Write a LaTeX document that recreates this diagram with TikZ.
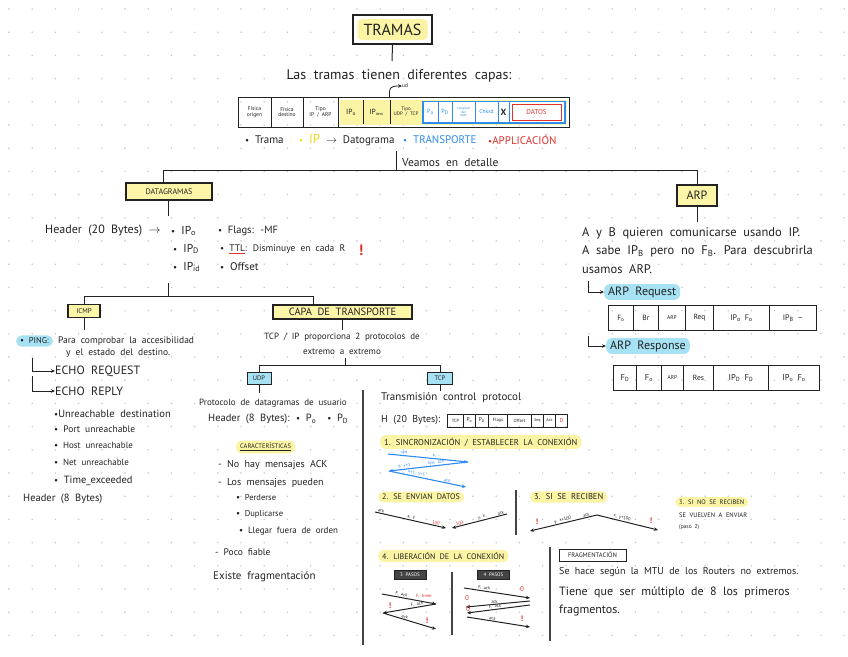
\documentclass[tikz,border=0pt]{standalone}
\usepackage{fontspec}
\setmainfont{PT Sans}[WordSpace=2]
\usetikzlibrary{arrows.meta,calc}
\definecolor{hlY}{HTML}{FBF4A4}
\definecolor{boxY}{HTML}{FDF5A8}
\definecolor{hlB}{HTML}{A6E1F4}
\definecolor{tBlue}{HTML}{2E8CF0}
\definecolor{tRed}{HTML}{E2312B}
\definecolor{tYel}{HTML}{E9D81C}
\definecolor{dotc}{HTML}{C4C4C4}
\definecolor{ink}{HTML}{222222}
\definecolor{dk}{HTML}{444444}
\newcommand\myfs[1]{\fontsize{#1}{#1}\selectfont}
\newcommand\sbs[1]{\textsubscript{#1}}
\newcommand\bul{{\small•}}
\begin{document}
\begin{tikzpicture}[x=1pt,y=-1pt,
  txt/.style={inner sep=0pt, anchor=west, text=ink},
  ctr/.style={inner sep=0pt, text=ink, align=center},
  ybox/.style={draw=ink, line width=1.1pt, fill=boxY, inner sep=0pt, text=ink},
  bbox/.style={draw=ink, line width=1pt, fill=hlB, inner sep=0pt, text=ink},
  hly/.style={fill=hlY, rounded corners=5pt, inner xsep=4pt, inner ysep=2.5pt, anchor=west, text=ink},
  hlb/.style={fill=hlB, rounded corners=6pt, inner xsep=4pt, inner ysep=2.5pt, anchor=west, text=ink},
  ln/.style={draw=ink, line width=1pt},
  arr/.style={draw=ink, line width=1pt, -{Stealth[length=4pt,width=3.5pt]}},
  barr/.style={draw=tBlue, line width=1.1pt, -{Stealth[length=4pt,width=3.5pt]}},
  lab/.style={inner sep=0.6pt, text=ink, font=\myfs{4.5}},
  cell/.style={draw=ink, line width=.9pt, anchor=north west, inner sep=0pt, text=ink, align=center},
  redm/.style={inner sep=0pt, text=tRed, font=\myfs{8}\bfseries},
]
\useasboundingbox (0,0) rectangle (848,656);
\fill[white] (0,0) rectangle (848,656);
\foreach \i in {0,...,36}{\foreach \j in {0,...,28}{\fill[dotc] (9+23.2*\i,9+23.2*\j) circle (0.8pt);}}

% ---------------- title
\node[draw=ink, line width=1.3pt, fill=white, minimum width=79pt, minimum height=29pt] (tramas) at (392.5,29.5) {};
\node[fill=hlY, rounded corners=4pt, minimum width=70pt, minimum height=21pt, inner sep=0pt, font=\myfs{16}, text=ink] (tramasT) at (tramas.center) {TRAMAS};
\coordinate (t1) at (392,61);
\draw[ln] (tramas.south) -- (t1);
\node[ctr, font=\myfs{14}] (capas) at (399,76) {Las tramas tienen diferentes capas:};

% ---------------- frame bar
\draw[ln] (238,97) rectangle (569,127);
\draw[ln] (271,97) -- (271,127);
\draw[ln] (303,97) -- (303,127);
\draw[ln] (338,97) -- (338,127);
\fill[hlY] (339.5,99.5) rectangle (567,124.5);
\draw[ln] (363,100) -- (363,124);
\draw[ln] (390,100) -- (390,124);
\node[ctr, font=\myfs{5.5}] (fo) at (254.5,112) {Física\\origen};
\node[ctr, font=\myfs{5.5}] (fd) at (287,112) {Física\\destino};
\node[ctr, font=\myfs{5.5}] (tip) at (320.5,112) {Tipo\\IP / ARP};
\node[ctr, font=\myfs{7.5}] (ipo) at (351,112) {IP\sbs{o}};
\node[ctr, font=\myfs{7.5}] (ipd) at (376.5,112) {IP\sbs{\myfs{4}dest}};
\node[ctr, font=\myfs{5}] (tudp) at (406,112) {Tipo\\UDP / TCP};
\draw[tBlue, line width=1.2pt, fill=white] (423,101.5) rectangle (565,123);
\draw[tBlue, line width=1pt] (438,101.5) -- (438,123);
\draw[tBlue, line width=1pt] (452,101.5) -- (452,123);
\draw[tBlue, line width=1pt] (475,101.5) -- (475,123);
\draw[tBlue, line width=1pt] (498,101.5) -- (498,123);
\draw[tBlue, line width=1pt] (509,101.5) -- (509,123);
\node[ctr, text=tBlue, font=\myfs{6}] (bpo) at (430.5,112) {P\sbs{o}};
\node[ctr, text=tBlue, font=\myfs{6}] (bpd) at (445,112) {P\sbs{D}};
\node[ctr, text=tBlue, font=\myfs{3.3}] (blon) at (463.5,112) {Longitud\\del\\dato};
\node[ctr, text=tBlue, font=\myfs{5.5}] (bchk) at (486.5,112) {Chksd};
\node[ctr, font=\myfs{9}\bfseries] (bx) at (503.5,112) {X};
\node[draw=tRed, line width=1pt, fill=white, minimum width=49pt, minimum height=16pt, inner sep=0pt, text=tRed, font=\myfs{7}] (datos) at (536.5,112) {DATOS};
\coordinate (hk0) at (389.5,98);
\node[txt, font=\myfs{5.5}] (ud) at (402,86) {ud};
\draw[arr, line width=.8pt] (hk0) -- (389.5,91) to[out=90,in=180] (ud.west);

% legend
\node[txt, font=\myfs{11}] (lg1) at (245,140) {\bul\ Trama};
\node[txt, font=\myfs{11}] (lg2) at (299,140) {\textcolor{tYel}{\bul\ \myfs{13}IP} $\rightarrow$ Datograma};
\node[txt, font=\myfs{11}, text=tBlue] (lg3) at (403,140) {\bul\ TRANSPORTE};
\node[txt, font=\myfs{11}, text=tRed] (lg4) at (488,140) {\bul APPLICACIÓN};
\node[txt, font=\myfs{11.5}] (veamos) at (402,163) {Veamos en detalle};

% tree level 1
\coordinate (v0) at (396,151);
\coordinate (v1) at (396,170);
\coordinate (hl) at (163,170);
\coordinate (hr) at (697,170);
\draw[ln] (v0) -- (v1);
\draw[ln] (hl) -- (hr);
\node[ybox, minimum width=86pt, minimum height=17pt, font=\myfs{8}] (datag) at (169,191.5) {DATAGRAMAS};
\node[ybox, minimum width=40pt, minimum height=21pt, font=\myfs{12}] (arp) at (697,195.5) {ARP};
\draw[ln] (hl) -- (hl |- datag.north);
\draw[ln] (hr) -- (arp.north);

% ---------------- datagramas
\coordinate (d1) at (168,216);
\draw[ln] (datag.south -| d1) -- (d1);
\node[txt, font=\myfs{12}] (hdr20) at (45,231) {Header (20 Bytes) $\rightarrow$};
\node[txt, font=\myfs{11.5}] (dip1) at (171,231) {\bul\ IP\sbs{o}};
\node[txt, font=\myfs{11.5}] (dip2) at (173,249) {\bul\ IP\sbs{D}};
\node[txt, font=\myfs{11.5}] (dip3) at (173,267) {\bul\ IP\sbs{id}};
\node[txt, font=\myfs{10.5}] (dfl) at (218,231) {\bul\ Flags: -MF};
\node[txt, font=\myfs{9.5}] (dttl) at (220,249) {\bul\ \textcolor{tRed}{\underline{\textcolor{ink}{TTL}}}: Disminuye en cada R};
\node[redm, font=\myfs{15}\bfseries] (dexc) at (361,250) {!};
\node[txt, font=\myfs{11}] (doff) at (220,267) {\bul\ Offset};

\coordinate (d2) at (168,283);
\coordinate (d3) at (168,296);
\coordinate (d4) at (84,296);
\coordinate (d5) at (313,296);
\draw[ln] (d2) -- (d3);
\draw[ln] (d4) -- (d5);
\node[ybox, minimum width=32pt, minimum height=13pt, font=\myfs{7}] (icmp) at (84,311) {ICMP};
\node[ybox, minimum width=139pt, minimum height=14pt, font=\myfs{10.5}] (capa) at (342.5,312) {CAPA DE TRANSPORTE};
\draw[ln] (d4) -- (icmp.north);
\draw[ln] (d5) -- (d5 |- capa.north);

% ---------------- ICMP
\coordinate (i1) at (84,330);
\draw[ln] (icmp.south) -- (i1);
\node[hlb, font=\myfs{8.5}] (ping) at (16,341) {\bul\ PING:};
\node[txt, font=\myfs{9.5}] (pingt1) at (58,341) {Para comprobar la accesibilidad};
\node[txt, font=\myfs{9.5}] (pingt2) at (66,353) {y el estado del destino.};
\node[txt, font=\myfs{12}] (ereq) at (55,371) {ECHO REQUEST};
\node[txt, font=\myfs{12}] (erep) at (55,391) {ECHO REPLY};
\coordinate (e1) at (32,358);
\coordinate (e2) at (32,376);
\draw[arr] (e1) |- (ereq.west);
\draw[arr] (e2) |- (erep.west);
\node[txt, font=\myfs{10.5}] (u1) at (54,414) {\bul Unreachable destination};
\node[txt, font=\myfs{9.5}] (u2) at (54,429) {\bul\ Port unreachable};
\node[txt, font=\myfs{9}] (u3) at (54,445) {\bul\ Host unreachable};
\node[txt, font=\myfs{9}] (u4) at (54,462) {\bul\ Net unreachable};
\node[txt, font=\myfs{10.5}] (u5) at (54,481) {\bul\ Time\_exceeded};
\node[txt, font=\myfs{10.5}] (hdr8) at (23,499) {Header (8 Bytes)};

% ---------------- capa de transporte
\coordinate (c1) at (342,330);
\draw[ln] (capa.south -| c1) -- (c1);
\node[ctr, font=\myfs{9}] (tcpip1) at (342,337) {TCP / IP proporciona 2 protocolos de};
\node[ctr, font=\myfs{9}] (tcpip2) at (342,352) {extremo a extremo};
\coordinate (c2) at (345,358);
\coordinate (c3) at (345,365);
\coordinate (c4) at (259,365);
\coordinate (c5) at (440,365);
\draw[ln] (c2) -- (c3);
\draw[ln] (c4) -- (c5);
\node[bbox, minimum width=24pt, minimum height=12pt, font=\myfs{6.5}] (udp) at (259,378.5) {UDP};
\node[bbox, minimum width=25pt, minimum height=12pt, font=\myfs{6.5}] (tcp) at (440,378.5) {TCP};
\draw[ln] (c4) -- (udp.north);
\draw[ln] (c5) -- (tcp.north);
\coordinate (u0) at (259,393);
\draw[ln] (udp.south) -- (u0);
\coordinate (t0) at (440,391);
\draw[ln] (tcp.south) -- (t0);
\coordinate (sepA) at (363,390);
\coordinate (sepB) at (363,645);
\draw[ln, draw=dk, line width=1.3pt] (sepA) -- (sepB);

% UDP
\node[ctr, font=\myfs{9}] (udp1) at (273,403) {Protocolo de datagramas de usuario};
\node[txt, font=\myfs{10.5}] (udp2) at (208,419) {Header (8 Bytes): \bul\ P\sbs{o} \ \bul\ P\sbs{D}};
\node[hly, font=\myfs{6.5}] (carac) at (236,447) {\underline{CARACTERÍSTICAS}};
\node[txt, font=\myfs{10}] (udp3) at (218,465) {- No hay mensajes ACK};
\node[txt, font=\myfs{10}] (udp4) at (218,483) {- Los mensajes pueden};
\node[txt, font=\myfs{8.5}] (udp5) at (236,498) {\bul\ Perderse};
\node[txt, font=\myfs{8.5}] (udp6) at (236,514) {\bul\ Duplicarse};
\node[txt, font=\myfs{9}] (udp7) at (239,531) {\bul\ Llegar fuera de orden};
\node[txt, font=\myfs{9.5}] (udp8) at (215,552) {- Poco fiable};
\node[txt, font=\myfs{11}] (udp9) at (213,577) {Existe fragmentación};

% TCP
\node[txt, font=\myfs{11}] (tcp1) at (381,398) {Transmisión control protocol};
\node[txt, font=\myfs{10}] (tcp2) at (381,420) {H (20 Bytes):};
\node[cell, minimum width=16pt, minimum height=13pt, font=\myfs{4.5}] (tc1) at (447,413.5) {TCP};
\node[cell, minimum width=12pt, minimum height=13pt, font=\myfs{5.5}] (tc2) at (463,413.5) {P\sbs{o}};
\node[cell, minimum width=13pt, minimum height=13pt, font=\myfs{5.5}] (tc3) at (475,413.5) {P\sbs{D}};
\node[cell, minimum width=19pt, minimum height=13pt, font=\myfs{4.5}] (tc4) at (488,413.5) {Flags};
\node[cell, minimum width=24pt, minimum height=13pt, font=\myfs{4.5}] (tc5) at (507,413.5) {Offset};
\node[cell, minimum width=12pt, minimum height=13pt, font=\myfs{4}] (tc6) at (531,413.5) {Seq};
\node[cell, minimum width=12pt, minimum height=13pt, font=\myfs{4}] (tc7) at (543,413.5) {Ack};
\node[cell, minimum width=12pt, minimum height=13pt, font=\myfs{5.5}, text=tRed] (tc8) at (555,413.5) {D};

\node[hly, font=\myfs{8.5}] (sync) at (380,442) {1. SINCRONIZACIÓN / ESTABLECER LA CONEXIÓN};
\coordinate (s1) at (388,454);
\coordinate (s2) at (468,462);
\coordinate (s3) at (389,471);
\coordinate (s4) at (466,487);
\draw[barr] (s1) -- node[lab, text=tBlue, pos=.2, above, sloped] {syn} node[lab, text=tBlue, pos=.6, above, sloped] {x, -} (s2);
\draw[barr] (s2) -- node[lab, text=tBlue, pos=.8, above, sloped] {y, x+1} node[lab, text=tBlue, pos=.4, above, sloped] {syn, ack} (s3);
\draw[barr] (s3) -- node[lab, text=tBlue, pos=.35, above, sloped] {x+1, y+1} node[lab, text=tBlue, pos=.75, above, sloped] {ack} (s4);

\node[hly, font=\myfs{8}] (env) at (378,497) {2. SE ENVIAN DATOS};
\coordinate (a1) at (375,512);
\coordinate (a2) at (446,528);
\coordinate (b1) at (507,514);
\coordinate (b2) at (452,528);
\draw[arr] (a1) -- node[lab, pos=.08, above, sloped] {ack} node[lab, pos=.5, above, sloped] {x, y} node[lab, text=tRed, pos=.85, above, sloped] {100} (a2);
\draw[arr] (b1) -- node[lab, pos=.1, above, sloped] {ack} node[lab, pos=.45, above, sloped] {y, x} node[lab, text=tRed, pos=.85, above, sloped] {100} (b2);
\coordinate (m1) at (516,490);
\coordinate (m2) at (516,535);
\draw[ln, draw=dk, line width=1.2pt] (m1) -- (m2);

\node[hly, font=\myfs{8.5}] (rec) at (530,497) {3. SI SE RECIBEN};
\coordinate (r0) at (597,515);
\coordinate (r1) at (530,531);
\coordinate (r2) at (658,530);
\draw[arr] (r0) -- node[lab, pos=.15, above, sloped] {ack} node[lab, pos=.5, above, sloped] {y, x+100} (r1);
\draw[arr] (r0) -- node[lab, pos=.4, above, sloped] {x, y+100} (r2);
\node[redm] (rx1) at (537,522) {!};
\node[redm] (rx2) at (651,521) {!};

\node[hly, font=\myfs{6.5}] (norec) at (675,502) {3. SI NO SE RECIBEN};
\node[txt, font=\myfs{6.5}] (norec1) at (679,515) {SE VUELVEN A ENVIAR};
\node[txt, font=\myfs{5.5}] (norec2) at (679,527) {(paso 2)};

% liberación
\node[hly, font=\myfs{8}] (lib) at (378,556) {4. LIBERACIÓN DE LA CONEXIÓN};
\node[fill=dk, draw=ink, minimum width=32pt, minimum height=9pt, inner sep=0pt, text=white, font=\myfs{5}] (p3) at (410,575) {3 PASOS};
\node[fill=dk, draw=ink, minimum width=32pt, minimum height=9pt, inner sep=0pt, text=white, font=\myfs{5}] (p4) at (493.5,575) {4 PASOS};
\coordinate (e3a) at (382,594);
\coordinate (e3b) at (436,604);
\coordinate (e3c) at (383,613);
\coordinate (e3d) at (436,629);
\draw[arr] (e3a) -- node[lab, pos=.35, above, sloped] {F, ack} (e3b);
\node[lab, text=tRed] (ftimer) at (424,596) {F, timer};
\draw[arr] (e3b) -- node[lab, pos=.35, above, sloped] {F, ack} (e3c);
\draw[arr] (e3c) -- node[lab, pos=.4, above, sloped] {ack} (e3d);
\node[redm] (x3a) at (390,606) {!};
\node[redm] (x3b) at (427,621) {!};
\coordinate (m3) at (452,572);
\coordinate (m4) at (452,635);
\draw[ln, draw=dk, line width=1.2pt] (m3) -- (m4);
\coordinate (f1) at (464,588);
\coordinate (f2) at (530,598);
\coordinate (f3) at (530,601);
\coordinate (f4) at (466,607);
\coordinate (f5) at (530,605);
\coordinate (f6) at (467,613);
\coordinate (f7) at (467,617);
\coordinate (f8) at (530,627);
\draw[arr] (f1) -- node[lab, pos=.3, above, sloped] {F, ack} (f2);
\draw[arr] (f3) -- node[lab, pos=.55, above, sloped] {ack} (f4);
\draw[arr] (f5) -- node[lab, pos=.55, above, sloped] {F, ack} (f6);
\draw[arr] (f7) -- node[lab, pos=.4, above, sloped] {ack} (f8);
\node[redm, font=\myfs{7}] (x4a) at (522,589) {0};
\node[redm, font=\myfs{7}] (x4b) at (467,598) {0};
\node[redm, font=\myfs{7}] (x4c) at (468,609) {0};
\node[redm] (x4d) at (522,619) {!};

% fragmentación
\coordinate (m5) at (550,547);
\coordinate (m6) at (550,641);
\draw[ln, draw=dk, line width=1.3pt] (m5) -- (m6);
\node[draw=ink, line width=.9pt, minimum width=67pt, minimum height=12pt, inner sep=0pt, text=ink, font=\myfs{6.5}] (frag) at (592.5,555) {FRAGMENTACIÓN};
\node[txt, font=\myfs{10}] (fr1) at (559,572) {Se hace según la MTU de los Routers no extremos.};
\node[txt, font=\myfs{12}] (fr2) at (559,592) {Tiene que ser múltiplo de 8 los primeros};
\node[txt, font=\myfs{12}] (fr3) at (559,611) {fragmentos.};

% ---------------- ARP
\coordinate (ar0) at (697,222);
\draw[ln] (arp.south) -- (ar0);
\node[txt, font=\myfs{12.5}] (arp1) at (582,233) {A y B quieren comunicarse usando IP.};
\node[txt, font=\myfs{12.5}] (arp2) at (582,251) {A sabe IP\sbs{B} pero no F\sbs{B}. Para descubrirla};
\node[txt, font=\myfs{12.5}] (arp3) at (582,269) {usamos ARP.};
\node[hlb, font=\myfs{12}] (areq) at (604,292) {ARP Request};
\node[hlb, font=\myfs{12}] (ares) at (606,346) {ARP Response};
\coordinate (ae1) at (588,281);
\coordinate (ae2) at (588,336);
\draw[arr] (ae1) |- (areq.west);
\draw[arr] (ae2) |- (ares.west);

\node[cell, minimum width=25pt, minimum height=25pt, font=\myfs{7.5}] (q1) at (608,305) {F\sbs{o}};
\node[cell, minimum width=25pt, minimum height=25pt, font=\myfs{7.5}] (q2) at (633,305) {Br};
\node[cell, minimum width=27pt, minimum height=25pt, font=\myfs{5.5}] (q3) at (658,305) {ARP};
\node[cell, minimum width=28pt, minimum height=25pt, font=\myfs{7.5}] (q4) at (685,305) {Req};
\node[cell, minimum width=56pt, minimum height=25pt, font=\myfs{8}] (q5) at (713,305) {IP\sbs{o}\enspace F\sbs{o}};
\node[cell, minimum width=47pt, minimum height=25pt, font=\myfs{8}] (q6) at (769,305) {IP\sbs{B}\enspace --};

\node[cell, minimum width=23pt, minimum height=25pt, font=\myfs{8.5}] (p1) at (613,365) {F\sbs{D}};
\node[cell, minimum width=25pt, minimum height=25pt, font=\myfs{8.5}] (p2) at (636,365) {F\sbs{o}};
\node[cell, minimum width=22pt, minimum height=25pt, font=\myfs{5.5}] (p3b) at (661,365) {ARP};
\node[cell, minimum width=30pt, minimum height=25pt, font=\myfs{7.5}] (p4b) at (683,365) {Res};
\node[cell, minimum width=55pt, minimum height=25pt, font=\myfs{8.5}] (p5) at (713,365) {IP\sbs{D}\enspace F\sbs{D}};
\node[cell, minimum width=51pt, minimum height=25pt, font=\myfs{8.5}] (p6) at (768,365) {IP\sbs{o}\enspace F\sbs{o}};
\end{tikzpicture}
\end{document}
